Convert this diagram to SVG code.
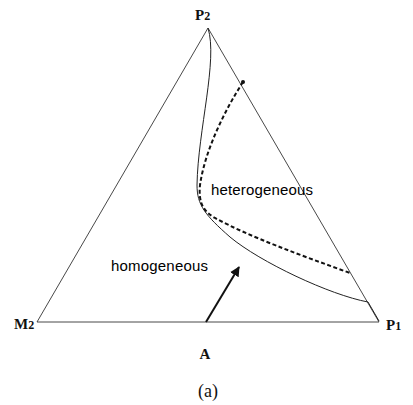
<svg xmlns="http://www.w3.org/2000/svg" width="413" height="405" viewBox="0 0 413 405">
<style>
.edge{fill:none;stroke:#333;stroke-width:0.9}
.curve{fill:none;stroke:#222;stroke-width:1}
.dash{fill:none;stroke:#111;stroke-width:2;stroke-dasharray:4 2.5}
.lbl{font-family:"Liberation Serif",serif;font-weight:bold;fill:#111}
.reg{font-family:"Liberation Sans",Arial,sans-serif;font-size:15px;fill:#000}
</style>
<defs>
<marker id="ah" viewBox="0 0 10 10" refX="9" refY="5" markerWidth="5" markerHeight="5" orient="auto" markerUnits="strokeWidth">
<path d="M0,0 L10,5 L0,10 z" fill="#111"/>
</marker>
</defs>
<rect width="413" height="405" fill="#fff"/>
<g id="connectors">
<path class="edge" d="M208,28 L37,322 L379,322 Z"/>
<path class="curve" d="M208,28 C218,60 198,130 197,185 C197,205 205,215 230,237 C260,262 330,295 368,302 L379,321"/>
<path class="dash" d="M243,82 C225,110 205,150 200,185 C198,205 205,212 215,218 C250,237 300,255 350,273"/>
<circle cx="243" cy="82" r="2" fill="#111"/>
<line x1="206" y1="322" x2="239" y2="267" stroke="#111" stroke-width="2" marker-end="url(#ah)"/>
</g>
<g id="P2"><text class="lbl" x="195" y="20" font-size="15">P<tspan font-size="12" dy="0">2</tspan></text></g>
<g id="M2"><text class="lbl" x="14" y="329" font-size="15">M<tspan font-size="12" dy="0">2</tspan></text></g>
<g id="P1"><text class="lbl" x="386" y="330" font-size="15">P<tspan font-size="12" dy="0">1</tspan></text></g>
<g id="A"><text class="lbl" x="205" y="359" font-size="15" text-anchor="middle">A</text></g>
<g id="het"><text class="reg" x="211" y="195" textLength="102">heterogeneous</text></g>
<g id="hom"><text class="reg" x="111" y="271" textLength="97">homogeneous</text></g>
<g id="caption"><text x="208" y="397" font-family="Liberation Serif,serif" font-size="18" text-anchor="middle" fill="#111">(a)</text></g>
</svg>
